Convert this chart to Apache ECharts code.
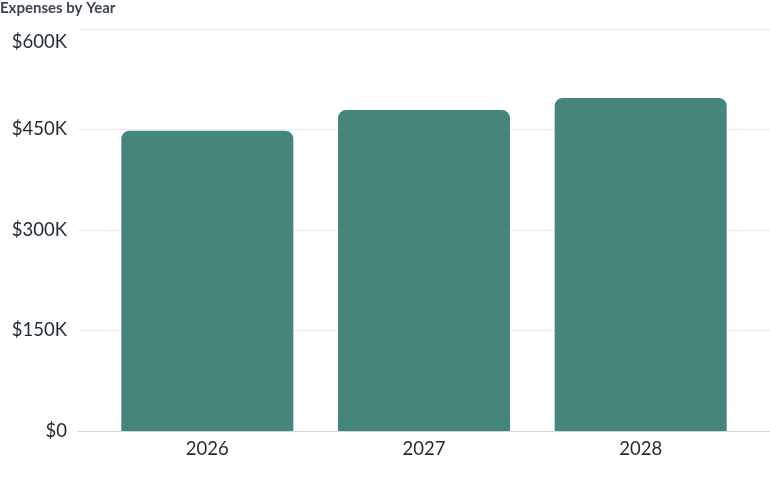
<!DOCTYPE html>
<html><head><meta charset="utf-8">
<script src="https://cdn.jsdelivr.net/npm/echarts@6/dist/echarts.min.js"></script>
<style>html,body{margin:0;padding:0;background:#fff}#c{width:770px;height:477px}</style>
</head><body><div id="c"></div>
<script>
const title = "Expenses by Year";
const years = ["2026", "2027", "2028"];
const expenses = [448000, 479000, 497000];
const yTicks = [0, 150000, 300000, 450000, 600000];

const yMax = yTicks[yTicks.length - 1];
const yStep = yTicks[1] - yTicks[0];
const fmt = v => {
  const s = v === 0 ? "$0" : "$" + (v / 1000) + "K";
  return v === yMax ? "{top|" + s + "}" : s;
};
const chart = echarts.init(document.getElementById('c'));
const font = "Lato, 'Open Sans', sans-serif";
chart.setOption({
  animation: false,
  title: { text: title, left: 0, top: 1, padding: 0, textStyle: { fontSize: 15, fontWeight: 'bold', color: '#3b4452', fontFamily: font } },
  grid: [
    { left: 78, right: 0, top: 29, bottom: 46, containLabel: false },
    { left: 99, right: 21, top: 29, bottom: 46, containLabel: false }
  ],
  xAxis: [
    { type: 'category', gridIndex: 0, data: years, axisLine: { show: true, lineStyle: { color: '#d6d6d6', width: 1 } }, axisTick: { show: false }, axisLabel: { show: false } },
    { type: 'category', gridIndex: 1, data: years, axisLine: { show: false }, axisTick: { show: false },
      axisLabel: { color: '#1f2a33', fontSize: 18.5, fontFamily: font, margin: 9 } }
  ],
  yAxis: [
    { type: 'value', gridIndex: 0, min: 0, max: yMax, interval: yStep,
      axisLine: { show: false }, axisTick: { show: false },
      axisLabel: { formatter: fmt, color: '#1f2a33', fontSize: 18.5, fontFamily: font, margin: 11,
        rich: { top: { color: '#1f2a33', fontSize: 18.5, fontFamily: font, padding: [26, 0, 0, 0] } } },
      splitLine: { lineStyle: { color: '#ebebeb', width: 1 } } },
    { type: 'value', gridIndex: 1, min: 0, max: yMax, interval: yStep, show: false, splitLine: { show: false } }
  ],
  series: [{
    type: 'bar', xAxisIndex: 1, yAxisIndex: 1, data: expenses, barWidth: 172,
    itemStyle: { color: '#45857c', borderRadius: [8, 8, 0, 0] }
  }]
});
</script></body></html>
